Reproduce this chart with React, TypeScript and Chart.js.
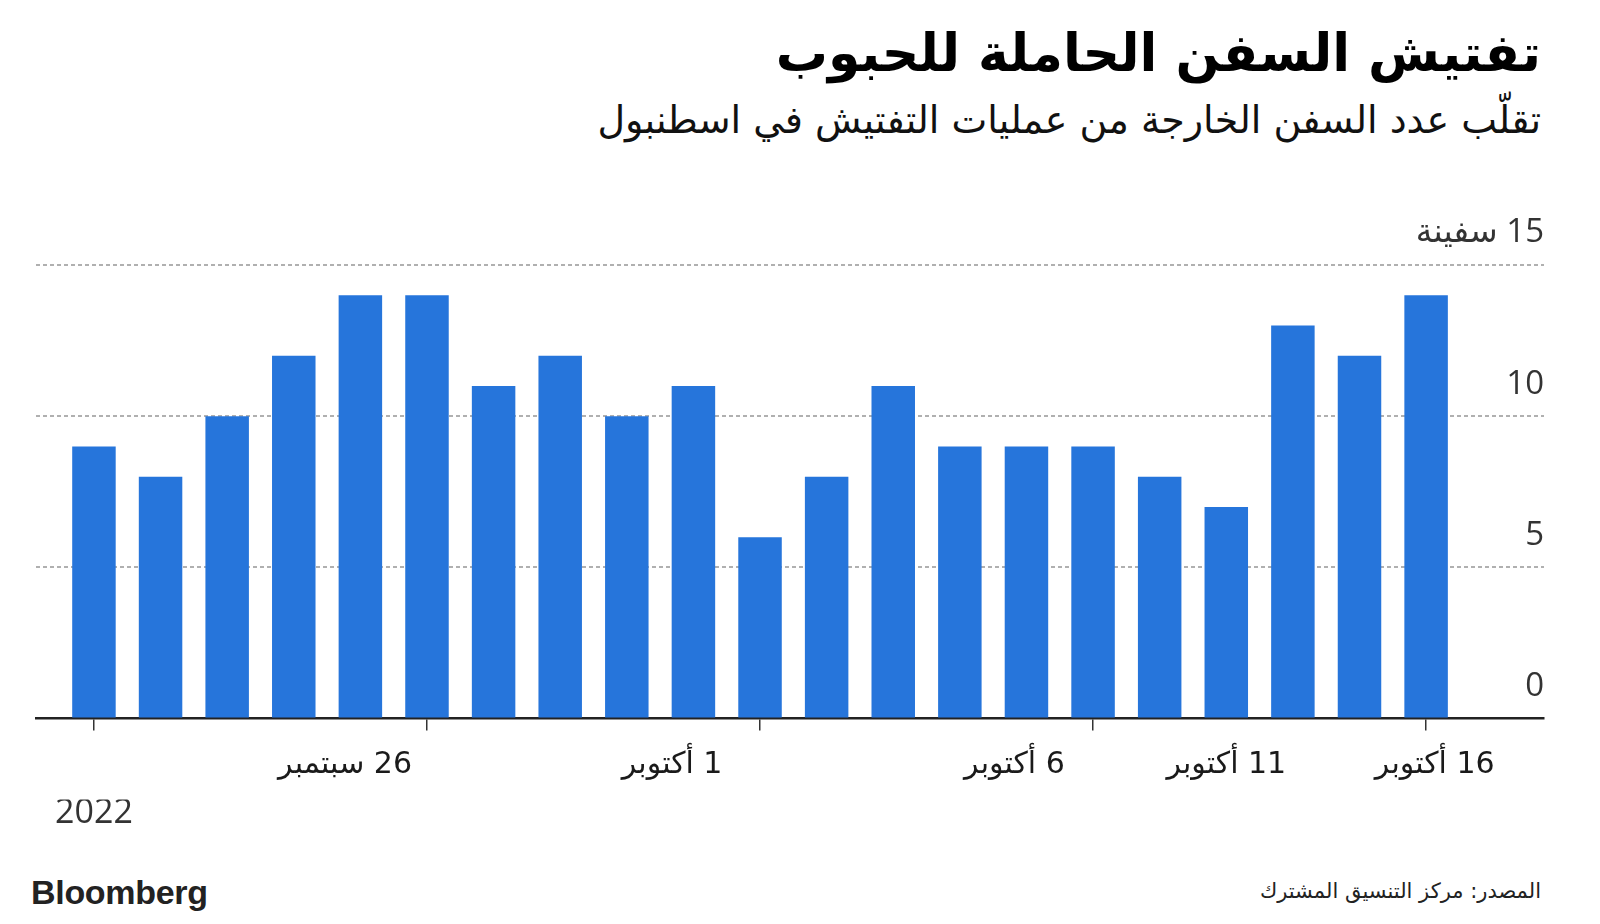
import React, { useEffect, useRef } from 'react';
import { Chart, registerables } from 'chart.js';

Chart.register(...registerables);

// ---- Data ----
const titleText = 'تفتيش السفن الحاملة للحبوب';
const subtitleText = 'تقلّب عدد السفن الخارجة من عمليات التفتيش في اسطنبول';
const sourceText = 'المصدر: مركز التنسيق المشترك';
const brandText = 'Bloomberg';

// one bar per day, 26 Sep 2022 .. 16 Oct 2022
const dayIndex = [0, 1, 2, 3, 4, 5, 6, 7, 8, 9, 10, 11, 12, 13, 14, 15, 16, 17, 18, 19, 20];
const inspections = [9, 8, 10, 12, 14, 14, 11, 12, 10, 11, 6, 8, 11, 9, 9, 9, 8, 7, 13, 12, 14];

const tickMarkAt = [0, 5, 10, 15, 20];
const dateLabels = ['26 سبتمبر', '1 أكتوبر', '6 أكتوبر', '11 أكتوبر', '16 أكتوبر'];
const dateLabelAt = [3.77, 8.68, 13.82, 17.0, 20.13];
const yearLabels = ['2022'];
const yearLabelAt = [0];
const yTickValues = [0, 5, 10, 15];
const yUnit = 'سفينة';
const xRange = [-0.87, 21.77];
const yRange = [0, 15];

const ARABIC = "'DejaVu Sans', sans-serif";
const LATIN = "'Open Sans', 'DejaVu Sans', sans-serif";

export default function App() {
  const ref = useRef<HTMLCanvasElement | null>(null);

  useEffect(() => {
    document.body.style.margin = '0';
    const canvas = ref.current;
    if (!canvas) return;
    const chart = new Chart(canvas, {
      type: 'bar',
      data: {
        datasets: [
          {
            data: inspections.map((v, i) => ({ x: dayIndex[i], y: v })),
            backgroundColor: '#2675db',
            borderWidth: 0,
            barPercentage: 0.653,
            categoryPercentage: 1,
            xAxisID: 'x',
            yAxisID: 'y',
          },
        ],
      },
      options: {
        animation: false,
        responsive: false,
        maintainAspectRatio: false,
        layout: { padding: { top: 85, left: 36, right: 56, bottom: 0 } },
        plugins: {
          legend: { display: false },
          tooltip: { enabled: false },
          title: { display: false },
        },
        scales: {
          x: {
            type: 'linear',
            position: 'bottom',
            weight: 0,
            offset: false,
            min: xRange[0],
            max: xRange[1],
            bounds: 'data',
            afterBuildTicks: (s: any) => {
              s.ticks = tickMarkAt.map((v) => ({ value: v }));
            },
            ticks: { display: false },
            grid: {
              offset: false,
              drawOnChartArea: false,
              drawTicks: true,
              tickLength: 12,
              color: '#333',
              lineWidth: 1.5,
            },
            border: { display: true, color: '#222', width: 2.5 },
          },
          xd: {
            type: 'linear',
            position: 'bottom',
            weight: 1,
            offset: false,
            min: xRange[0],
            max: xRange[1],
            bounds: 'data',
            afterBuildTicks: (s: any) => {
              s.ticks = dateLabelAt.map((v) => ({ value: v }));
            },
            ticks: {
              autoSkip: false,
              maxRotation: 0,
              minRotation: 0,
              padding: 18,
              color: '#1a1a1a',
              font: { family: ARABIC, size: 30, lineHeight: 1.1 },
              callback: (_v: any, i: number) => dateLabels[i],
            },
            grid: { display: false, drawTicks: false, offset: false },
            border: { display: false },
          },
          xy: {
            type: 'linear',
            position: 'bottom',
            weight: 2,
            offset: false,
            min: xRange[0],
            max: xRange[1],
            bounds: 'data',
            afterBuildTicks: (s: any) => {
              s.ticks = yearLabelAt.map((v) => ({ value: v }));
            },
            ticks: {
              autoSkip: false,
              maxRotation: 0,
              minRotation: 0,
              padding: 4,
              color: '#333',
              font: { family: LATIN, size: 34, lineHeight: 0.6 },
              callback: (_v: any, i: number) => yearLabels[i],
            },
            grid: { display: false, drawTicks: false, offset: false },
            border: { display: false },
          },
          y: {
            type: 'linear',
            position: 'right',
            min: yRange[0],
            max: yRange[1],
            afterBuildTicks: (s: any) => {
              s.ticks = yTickValues.map((v) => ({ value: v }));
            },
            ticks: {
              mirror: true,
              padding: 0,
              labelOffset: -32,
              color: '#333',
              font: { family: LATIN, size: 33 },
              callback: (v: any) => (v === yRange[1] ? `${v} ${yUnit}` : `${v}`),
            },
            grid: {
              drawTicks: false,
              color: (c: any) => (c.tick && c.tick.value === 0 ? 'rgba(0,0,0,0)' : '#b0b0b0'),
              lineWidth: 2,
            },
            border: { display: false, dash: [4, 3] },
          },
        },
      },
    } as any);
    return () => chart.destroy();
  }, []);

  return (
    <div
      style={{
        position: 'fixed',
        left: 0,
        top: 0,
        width: 1600,
        height: 924,
        background: '#fff',
        overflow: 'hidden',
      }}
    >
      <div
        dir="rtl"
        style={{
          position: 'absolute',
          right: 59,
          top: 17,
          fontFamily: ARABIC,
          fontWeight: 'bold',
          fontSize: 52,
          lineHeight: '72px',
          color: '#000',
          whiteSpace: 'nowrap',
        }}
      >
        {titleText}
      </div>
      <div
        dir="rtl"
        style={{
          position: 'absolute',
          right: 59,
          top: 92,
          fontFamily: ARABIC,
          fontSize: 38,
          lineHeight: '56px',
          color: '#111',
          whiteSpace: 'nowrap',
        }}
      >
        {subtitleText}
      </div>
      <canvas
        ref={ref}
        dir="rtl"
        width={1600}
        height={648}
        style={{ position: 'absolute', left: 0, top: 180 }}
      />
      <div
        style={{
          position: 'absolute',
          left: 31,
          top: 872,
          fontFamily: "'Liberation Sans', Arial, sans-serif",
          fontWeight: 'bold',
          fontSize: 34,
          lineHeight: '40px',
          color: '#222',
          letterSpacing: -0.3,
        }}
      >
        {brandText}
      </div>
      <div
        dir="rtl"
        style={{
          position: 'absolute',
          right: 59,
          top: 876,
          fontFamily: ARABIC,
          fontSize: 21,
          lineHeight: '30px',
          color: '#222',
          whiteSpace: 'nowrap',
        }}
      >
        {sourceText}
      </div>
    </div>
  );
}
